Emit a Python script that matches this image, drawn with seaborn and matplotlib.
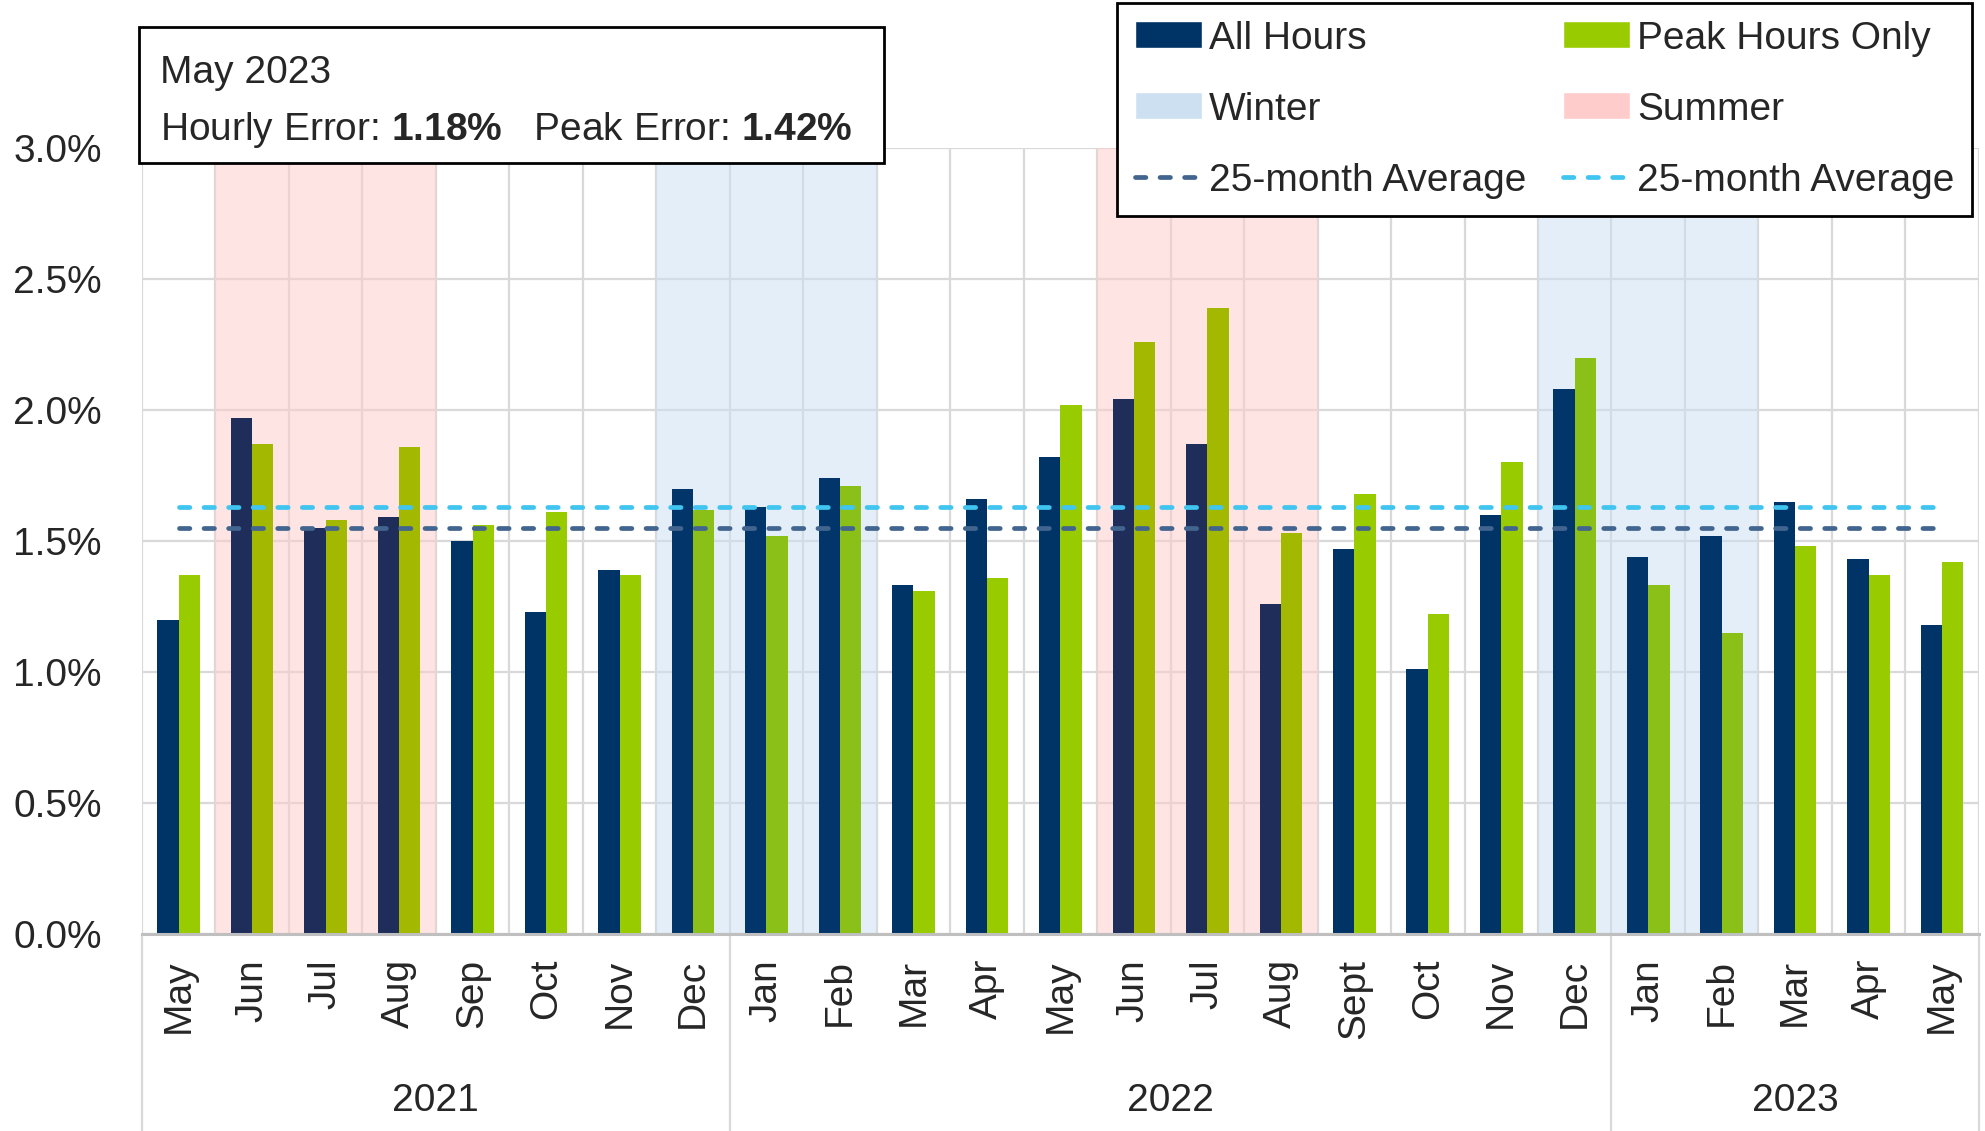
import numpy as np
import pandas as pd
import matplotlib
matplotlib.use('Agg')
import matplotlib.pyplot as plt
import seaborn as sns
from matplotlib.patches import Patch, Rectangle
from matplotlib.lines import Line2D
import matplotlib.transforms as mtransforms

# monthly forecast error data
months = ['May', 'Jun', 'Jul', 'Aug', 'Sep', 'Oct', 'Nov', 'Dec',
          'Jan', 'Feb', 'Mar', 'Apr', 'May', 'Jun', 'Jul', 'Aug', 'Sept', 'Oct', 'Nov', 'Dec',
          'Jan', 'Feb', 'Mar', 'Apr', 'May']
years = ['2021'] * 8 + ['2022'] * 12 + ['2023'] * 5
all_hours = [1.20, 1.97, 1.55, 1.59, 1.50, 1.23, 1.39, 1.70, 1.63, 1.74, 1.33, 1.66,
             1.82, 2.04, 1.87, 1.26, 1.47, 1.01, 1.60, 2.08, 1.44, 1.52, 1.65, 1.43, 1.18]
peak_hours = [1.37, 1.87, 1.58, 1.86, 1.56, 1.61, 1.37, 1.62, 1.52, 1.71, 1.31, 1.36,
              2.02, 2.26, 2.39, 1.53, 1.68, 1.22, 1.80, 2.20, 1.33, 1.15, 1.48, 1.37, 1.42]
seasons = ['', 'Summer', 'Summer', 'Summer', '', '', '', 'Winter', 'Winter', 'Winter', '', '', '',
           'Summer', 'Summer', 'Summer', '', '', '', 'Winter', 'Winter', 'Winter', '', '', '']
avg_all = 1.55
avg_peak = 1.63
latest_label = 'May 2023'
latest_hourly = '1.18%'
latest_peak = '1.42%'

sns.set_style('white')
plt.rcParams['font.family'] = ['Liberation Sans', 'DejaVu Sans']
plt.rcParams['mathtext.fontset'] = 'custom'
plt.rcParams['mathtext.rm'] = 'Liberation Sans'
plt.rcParams['mathtext.bf'] = 'Liberation Sans:bold'

FS = 28
dark, green = '#003366', '#99CC00'
avg_dark, avg_light = '#41658F', '#40C4F0'
shade = {'Summer': '#FFCCCC', 'Winter': '#CCE0F2'}
bar_tint = {'All Hours': {'Summer': '#1E2D5A', 'Winter': '#02366B'},
            'Peak Hours Only': {'Summer': '#A3B800', 'Winter': '#8AC018'}}
dash = (0, (2.2, 3.0))

n = len(months)
df = pd.DataFrame({
    'idx': list(range(n)) * 2,
    'value': all_hours + peak_hours,
    'series': ['All Hours'] * n + ['Peak Hours Only'] * n,
})

fig = plt.figure(figsize=(19.85, 11.31), dpi=100)
ax = fig.add_axes([0.0715, 0.1742, 0.9254, 0.695])

sns.barplot(data=df, x='idx', y='value', hue='series',
            palette={'All Hours': dark, 'Peak Hours Only': green},
            width=0.58, gap=0, saturation=1, errorbar=None, legend=False,
            linewidth=0, ax=ax, zorder=3)

# tint the bars that sit inside a season band
for container, name in zip(ax.containers, ['All Hours', 'Peak Hours Only']):
    for i, bar in enumerate(container):
        if seasons[i]:
            bar.set_facecolor(bar_tint[name][seasons[i]])

# season bands
for i, s in enumerate(seasons):
    if s:
        ax.axvspan(i - 0.5, i + 0.5, color=shade[s], alpha=0.53, lw=0, zorder=1)

# 25-month averages
xs = list(range(n))
sns.lineplot(x=xs, y=[avg_all] * n, color=avg_dark, lw=3.4, ax=ax, zorder=4, linestyle=dash)
sns.lineplot(x=xs, y=[avg_peak] * n, color=avg_light, lw=3.4, ax=ax, zorder=4, linestyle=dash)
for ln in ax.lines:
    ln.set_dash_capstyle('round')

ax.set_xlim(-0.5, n - 0.5)
ax.set_ylim(0, 3.0)
ax.set_yticks(np.arange(0, 3.01, 0.5))
ax.yaxis.set_major_formatter(plt.FuncFormatter(lambda y, pos: f'{y:.1f}%'))
ax.set_xticks(range(n))
ax.set_xticklabels(months, rotation=90, va='top', ha='center')
ax.set_xticks(np.arange(-0.5, n, 1), minor=True)
ax.tick_params(axis='x', which='both', length=0, pad=18, labelsize=FS)
ax.tick_params(axis='y', length=0, pad=29, labelsize=FS)
ax.set_xlabel('')
ax.set_ylabel('')

ax.set_axisbelow(True)
ax.grid(axis='y', which='major', color='#D9D9D9', lw=1.6)
ax.grid(axis='x', which='minor', color='#D9D9D9', lw=1.6)
ax.grid(axis='x', which='major', visible=False)
for side in ['top', 'right', 'left']:
    ax.spines[side].set_visible(False)
ax.spines['bottom'].set_color('#BFBFBF')
ax.spines['bottom'].set_linewidth(2.2)
ax.spines['bottom'].set_zorder(5)

# year groups under the axis
trans = mtransforms.blended_transform_factory(ax.transData, ax.transAxes)
bounds = [-0.5] + [i - 0.5 for i in range(1, n) if years[i] != years[i - 1]] + [n - 0.5]
for b in bounds:
    ax.plot([b, b], [0, -0.26], transform=trans, color='#D9D9D9', lw=1.6, clip_on=False)
for lo, hi in zip(bounds[:-1], bounds[1:]):
    ax.text((lo + hi) / 2, -0.212, years[int(lo + 0.5)], transform=trans,
            ha='center', va='center', fontsize=FS)

# legend
handles = [
    Patch(facecolor=dark, label='All Hours'),
    Patch(facecolor=shade['Winter'], label='Winter'),
    Line2D([], [], color=avg_dark, lw=3.4, linestyle=dash,
           dash_capstyle='round', label='25-month Average'),
    Patch(facecolor=green, label='Peak Hours Only'),
    Patch(facecolor=shade['Summer'], label='Summer'),
    Line2D([], [], color=avg_light, lw=3.4, linestyle=dash,
           dash_capstyle='round', label='25-month Average'),
]
leg = fig.legend(handles=handles, ncol=2, loc='upper right',
                 bbox_to_anchor=(0.9934, 0.9973), fontsize=FS,
                 frameon=True, fancybox=False, framealpha=1, edgecolor='black',
                 handlelength=1.72, handleheight=0.69, handletextpad=0.18,
                 columnspacing=0.95, labelspacing=0.9, borderpad=0.45,
                 borderaxespad=0)
leg.get_frame().set_linewidth(2)
leg.set_zorder(10)

# latest month summary box
box = Rectangle((0.070, 0.8559), 0.3753, 0.1202, transform=fig.transFigure,
                facecolor='white', edgecolor='black', lw=2, zorder=10)
fig.add_artist(box)
fig.text(0.0806, 0.9266, latest_label, fontsize=FS, va='baseline', ha='left', zorder=11)
fig.text(0.0806, 0.8762,
         'Hourly Error: $\\mathbf{' + latest_hourly.replace('%', '\\%') + '}$   '
         'Peak Error: $\\mathbf{' + latest_peak.replace('%', '\\%') + '}$',
         fontsize=FS, va='baseline', ha='left', zorder=11)

fig.savefig('out.png', dpi=100)
